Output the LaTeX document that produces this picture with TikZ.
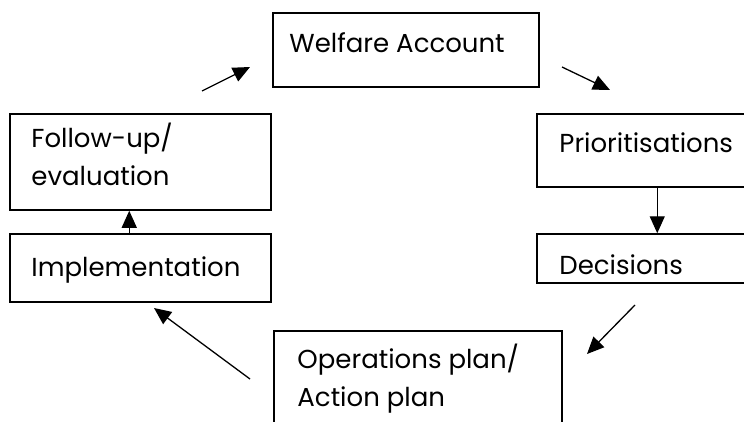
\documentclass[tikz,border=0pt]{standalone}
\usepackage{fontspec}
\setmainfont{Poppins}
\usetikzlibrary{positioning,arrows.meta}

\begin{document}
\begin{tikzpicture}[x=1pt,y=-1pt]
\tikzstyle{every node}+=[inner sep=0pt]
\tikzstyle{box}=[draw=black, line width=1.5pt, rectangle]
\tikzstyle{lbl}=[anchor=base west, align=left, font=\fontsize{26}{38}\selectfont]
\tikzstyle{arr}=[black, line width=1.3pt, -{Triangle[length=17pt,width=15pt]}]
\useasboundingbox (0,0) rectangle (744,421);
\clip (0,0) rectangle (744,421);
\node [box, minimum width=266pt, minimum height=74pt] (welfare) at (406,50) {};
\node [box, minimum width=223pt, minimum height=73pt] (prior) at (648.5,150.5) {};
\node [box, minimum width=223pt, minimum height=49pt] (decisions) at (648.5,258.5) {};
\node [box, minimum width=288pt, minimum height=109pt] (oper) at (418,385.5) {};
\node [box, minimum width=261pt, minimum height=96pt] (follow) at (140.5,162) {};
\node [box, minimum width=261pt, minimum height=68pt] (impl) at (140.5,268) {};
\node [lbl] (welfaretxt) at ([xshift=17pt,yshift=-40pt]welfare.north west) {Welfare Account};
\node [lbl] (priortxt) at ([xshift=23pt,yshift=-39pt]prior.north west) {Prioritisations};
\node [lbl] (decisionstxt) at ([xshift=23pt,yshift=-41pt]decisions.north west) {Decisions};
\node [lbl] (opertxt) at ([xshift=24pt,yshift=-76pt]oper.north west) {Operations plan/\\Action plan};
\node [lbl] (followtxt) at ([xshift=22pt,yshift=-72pt]follow.north west) {Follow-up/\\evaluation};
\node [lbl] (impltxt) at ([xshift=22pt,yshift=-43pt]impl.north west) {Implementation};
\coordinate (a1s) at (202,91);
\coordinate (a1e) at (250,67);
\coordinate (a2s) at (562,67);
\coordinate (a2e) at (610,90);
\coordinate (a3s) at (635,305);
\coordinate (a3e) at (587,354);
\coordinate (a4s) at (250,379);
\coordinate (a4e) at (154,308);
\draw [arr] (a1s) -- (a1e);
\draw [arr] (a2s) -- (a2e);
\draw [arr] ([xshift=121pt]prior.south west) -- ([xshift=121pt]decisions.north west);
\draw [arr] (a3s) -- (a3e);
\draw [arr] (a4s) -- (a4e);
\draw [arr] ([xshift=120pt]impl.north west) -- ([xshift=120pt]follow.south west);
\end{tikzpicture}
\end{document}
